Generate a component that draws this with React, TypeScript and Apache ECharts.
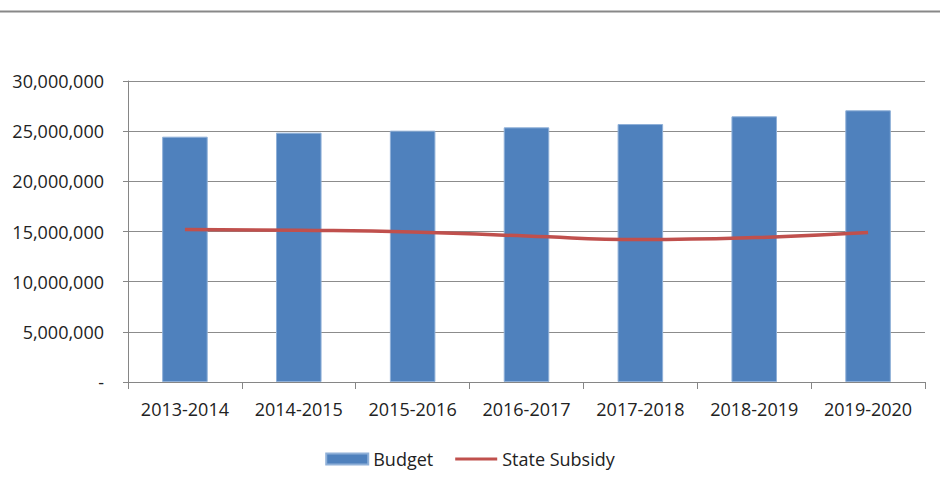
import React, { useEffect, useRef } from "react";
import * as echarts from "echarts";

const categories = ["2013-2014", "2014-2015", "2015-2016", "2016-2017", "2017-2018", "2018-2019", "2019-2020"];
const budget = [24450000, 24850000, 25050000, 25380000, 25710000, 26480000, 27080000];
const stateSubsidy = [15190000, 15120000, 14950000, 14550000, 14200000, 14390000, 14890000];
const yTicks = { min: 0, max: 30000000, interval: 5000000 };

const FONT = "Open Sans";

export default function App() {
  const ref = useRef<HTMLDivElement>(null);
  useEffect(() => {
    document.body.style.margin = "0";
    if (!ref.current) return;
    const chart = echarts.init(ref.current, undefined, { renderer: "svg" });
    chart.setOption({
      animation: false,
      backgroundColor: "#ffffff",
      textStyle: { fontFamily: FONT },
      graphic: [
        {
          type: "line",
          shape: { x1: 0, y1: 11.5, x2: 940, y2: 11.5 },
          style: { stroke: "#888888", lineWidth: 2 },
        },
      ],
      grid: { left: 128, right: 15, top: 81, bottom: 101, containLabel: false },
      legend: {
        left: "center",
        top: 445,
        itemGap: 22,
        itemWidth: 42,
        itemHeight: 11,
        textStyle: { fontFamily: FONT, fontSize: 18, color: "#222" },
        data: [
          { name: "Budget", icon: "rect" },
          { name: "State Subsidy", icon: "path://M0,0H44V3.2H0Z", itemStyle: { color: "#C0504D" } },
        ],
      },
      xAxis: {
        type: "category",
        data: categories,
        axisLine: { lineStyle: { color: "#868686", width: 1 } },
        axisTick: { show: true, interval: 0, alignWithLabel: false, length: 7, lineStyle: { color: "#868686" } },
        axisLabel: { interval: 0, hideOverlap: false, margin: 18, fontFamily: FONT, fontSize: 18, color: "#222" },
      },
      yAxis: {
        type: "value",
        min: yTicks.min,
        max: yTicks.max,
        interval: yTicks.interval,
        axisLine: { show: true, lineStyle: { color: "#868686", width: 1 } },
        axisTick: { show: true, inside: false, length: 5, lineStyle: { color: "#868686" } },
        splitLine: { show: true, lineStyle: { color: "#8c8c8c", width: 1 } },
        axisLabel: {
          margin: 24,
          fontFamily: FONT,
          fontSize: 18,
          color: "#222",
          formatter: (v: number) => (v === 0 ? "-" : v.toLocaleString("en-US")),
        },
      },
      series: [
        {
          name: "Budget",
          type: "bar",
          data: budget,
          barWidth: "40%",
          itemStyle: { color: "#4F81BD", borderColor: "#8FB0D8", borderWidth: 1 },
        },
        {
          name: "State Subsidy",
          type: "line",
          data: stateSubsidy,
          smooth: true,
          symbol: "none",
          lineStyle: { color: "#C0504D", width: 3.5 },
          itemStyle: { color: "#C0504D" },
        },
      ],
    });
    return () => chart.dispose();
  }, []);
  return <div ref={ref} style={{ width: 940, height: 483 }} />;
}
